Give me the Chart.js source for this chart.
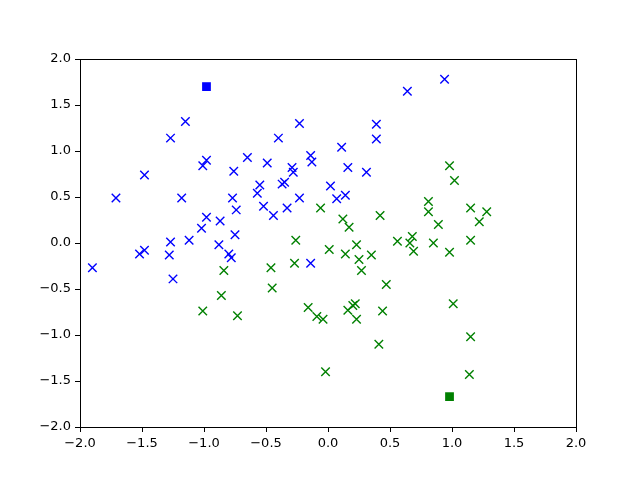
<!DOCTYPE html>
<html>
<head>
<meta charset="utf-8">
<script src="https://cdn.jsdelivr.net/npm/chart.js@4/dist/chart.umd.min.js"></script>
<style>
    html, body { margin: 0; padding: 0; background: #fff; }
    #wrap { width: 640px; height: 480px; }
</style>
</head>
<body>
<div id="wrap"><canvas id="scatter" width="640" height="480"></canvas></div>
<script>
// class 0 (blue) samples
const blueX = [-1.90, -1.71, -1.48, -1.48, -1.52, -1.27, -1.15, -1.27, -1.28, -1.25,
    -1.18, -1.12, -1.01, -0.98, -0.98, -1.02, -0.87, -0.88, -0.80, -0.78,
    -0.76, -0.77, -0.74, -0.75, -0.65, -0.57, -0.55, -0.49, -0.52, -0.44,
    -0.40, -0.37, -0.35, -0.33, -0.29, -0.28, -0.23, -0.23, -0.14, -0.13,
    -0.14, 0.02, 0.07, 0.11, 0.16, 0.14, 0.31, 0.39, 0.39, 0.64, 0.94];
const blueY = [-0.27, 0.49, 0.74, -0.08, -0.12, 1.14, 1.32, 0.01, -0.13, -0.39,
    0.49, 0.03, 0.84, 0.90, 0.28, 0.16, 0.24, -0.02, -0.12, -0.16,
    0.78, 0.49, 0.36, 0.09, 0.93, 0.54, 0.63, 0.87, 0.40, 0.30,
    1.14, 0.64, 0.66, 0.38, 0.82, 0.77, 0.49, 1.30, 0.95, 0.88,
    -0.22, 0.62, 0.48, 1.04, 0.82, 0.52, 0.77, 1.29, 1.13, 1.65, 1.78];

// class 1 (green) samples
const greenX = [-1.01, -0.84, -0.86, -0.73, -0.46, -0.45, -0.26, -0.27, -0.16, -0.09,
    -0.04, -0.06, 0.01, 0.12, 0.17, 0.14, 0.23, 0.25, 0.27, 0.35,
    0.42, 0.47, 0.44, 0.41, 0.16, 0.20, 0.22, 0.23, -0.02, 0.56,
    0.68, 0.66, 0.69, 0.81, 0.81, 0.89, 0.85, 0.98, 0.98, 1.02,
    1.15, 1.28, 1.22, 1.15, 1.01, 1.15, 1.14];
const greenY = [-0.74, -0.30, -0.57, -0.79, -0.27, -0.49, 0.03, -0.22, -0.70, -0.80,
    -0.83, 0.38, -0.07, 0.26, 0.17, -0.12, -0.02, -0.18, -0.30, -0.13,
    0.30, -0.45, -0.74, -1.10, -0.73, -0.68, -0.66, -0.83, -1.40, 0.02,
    0.07, 0.00, -0.09, 0.45, 0.34, 0.20, 0.00, -0.10, 0.84, 0.68,
    0.38, 0.34, 0.23, 0.03, -0.66, -1.02, -1.43];

// centroids
const centerX = [-0.98, 0.98];
const centerY = [1.70, -1.67];

const tickValues = [-2.0, -1.5, -1.0, -0.5, 0.0, 0.5, 1.0, 1.5, 2.0];

function toPoints(xs, ys) {
    return xs.map((x, i) => ({ x: x, y: ys[i] }));
}

function fmtTick(v) {
    return v.toFixed(1).replace('-', '\u2212');
}

// black box round the plot area like matplotlib spines
const frame = {
    id: 'frame',
    afterDraw(chart) {
        const a = chart.chartArea;
        const ctx = chart.ctx;
        ctx.save();
        ctx.strokeStyle = '#000';
        ctx.lineWidth = 1;
        ctx.strokeRect(Math.round(a.left) + 0.5, Math.round(a.top) + 0.5,
            Math.round(a.right - a.left), Math.round(a.bottom - a.top));
        ctx.restore();
    }
};

const axisOpts = {
    type: 'linear',
    min: -2,
    max: 2,
    afterBuildTicks: (scale) => { scale.ticks = tickValues.map(v => ({ value: v })); },
    grid: { drawOnChartArea: false, drawTicks: true, tickLength: 5, color: '#000' },
    border: { display: false },
    ticks: {
        color: '#000',
        padding: 4,
        font: { family: 'DejaVu Sans', size: 13 },
        callback: (v) => fmtTick(v),
        maxRotation: 0,
        autoSkip: false
    }
};

const ctx = document.getElementById('scatter').getContext('2d');
new Chart(ctx, {
    type: 'scatter',
    data: {
        datasets: [
            {
                label: 'class 0',
                data: toPoints(blueX, blueY),
                pointStyle: 'crossRot',
                pointRadius: 6,
                borderColor: '#0000ff',
                backgroundColor: '#0000ff',
                borderWidth: 1.4
            },
            {
                label: 'class 1',
                data: toPoints(greenX, greenY),
                pointStyle: 'crossRot',
                pointRadius: 6,
                borderColor: '#008000',
                backgroundColor: '#008000',
                borderWidth: 1.4
            },
            {
                label: 'centers',
                data: toPoints(centerX, centerY),
                pointStyle: 'rect',
                pointRadius: 6.2,
                borderWidth: 0,
                backgroundColor: ['#0000ff', '#008000'],
                borderColor: ['#0000ff', '#008000']
            }
        ]
    },
    options: {
        responsive: false,
        animation: false,
        layout: { padding: { top: 59, right: 64, left: 0, bottom: 0 } },
        plugins: {
            legend: { display: false },
            tooltip: { enabled: false }
        },
        scales: {
            x: Object.assign({}, axisOpts, {
                afterFit: (scale) => { scale.height = 53; }
            }),
            y: Object.assign({}, axisOpts, {
                afterFit: (scale) => { scale.width = 80; }
            })
        }
    },
    plugins: [frame]
});
</script>
</body>
</html>
